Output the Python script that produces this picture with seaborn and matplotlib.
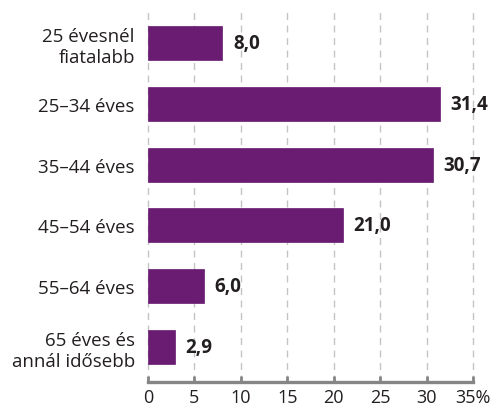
import matplotlib
matplotlib.use("Agg")
import matplotlib.pyplot as plt
import matplotlib.transforms as mtransforms
import seaborn as sns
import pandas as pd

categories = ["25 évesnél\nfiatalabb", "25–34 éves", "35–44 éves", "45–54 éves", "55–64 éves", "65 éves és\nannál idősebb"]
values = [8.0, 31.4, 30.7, 21.0, 6.0, 2.9]
xticks = [0, 5, 10, 15, 20, 25, 30, 35]
xticklabels = ["0", "5", "10", "15", "20", "25", "30", "35%"]

sns.set_style("white")
plt.rcParams["font.family"] = ["Open Sans", "DejaVu Sans"]

df = pd.DataFrame({"cat": categories, "val": values})

fig = plt.figure(figsize=(5.03, 4.10), dpi=100)
ax = fig.add_axes([148/503, 27/410, 325/503, 371/410])

purple = "#6A1B72"
text_c = "#231F20"
sns.barplot(data=df, x="val", y="cat", color=purple, width=0.56, ax=ax,
            saturation=1, edgecolor=purple, linewidth=0.5)

ax.set_xlim(0, 35)
ax.set_ylim(5.58, -0.53)
ax.set_xlabel("")
ax.set_ylabel("")

for x in xticks:
    ax.axvline(x, color="#C4C4C4", linestyle=(0, (5, 4)), linewidth=1, zorder=0, clip_on=False)

for i, v in enumerate(values):
    ax.text(v + 1.15, i, f"{v:.1f}".replace(".", ","), va="center", ha="left",
            fontsize=13.5, fontweight="bold", color=text_c)

for s in ["top", "right", "left"]:
    ax.spines[s].set_visible(False)
ax.spines["bottom"].set_color("#858585")
ax.spines["bottom"].set_linewidth(2.4)

ax.set_xticks(xticks)
ax.set_xticklabels(xticklabels, fontsize=13, color=text_c)
last = ax.get_xticklabels()[-1]
last.set_transform(last.get_transform() + mtransforms.ScaledTranslation(9/100, 0, fig.dpi_scale_trans))
ax.tick_params(axis="x", bottom=True, direction="in", length=4.5, width=2, color="#858585", pad=4.5)
ax.tick_params(axis="y", left=False, pad=6)
ax.set_yticks(range(len(categories)))
ax.set_yticklabels(categories, fontsize=13.5, color=text_c, multialignment="right")

fig.savefig("out.png", dpi=100)
